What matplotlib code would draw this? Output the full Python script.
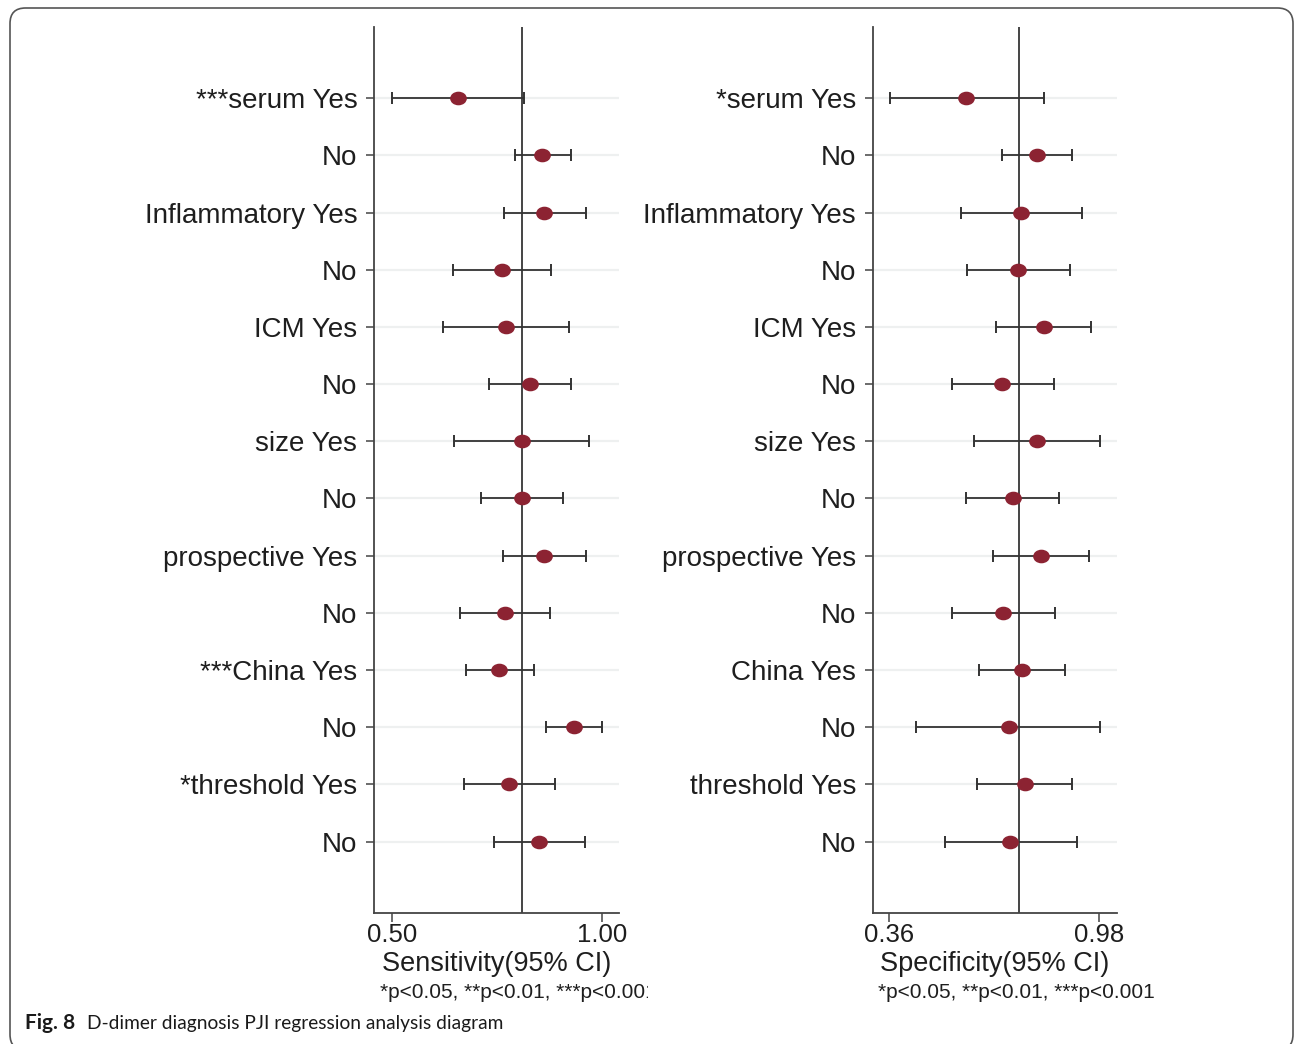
import matplotlib
matplotlib.use('Agg')
import matplotlib.pyplot as plt
import numpy as np
from matplotlib.path import Path
from matplotlib.transforms import Affine2D
from matplotlib.patches import FancyBboxPatch, Rectangle

plt.rcParams['font.family'] = ['Liberation Sans', 'DejaVu Sans']

# subgroup labels, top to bottom
sens_labels = ['***serum Yes', 'No', 'Inflammatory Yes', 'No', 'ICM Yes', 'No',
               'size Yes', 'No', 'prospective Yes', 'No', '***China Yes', 'No',
               '*threshold Yes', 'No']
spec_labels = ['*serum Yes', 'No', 'Inflammatory Yes', 'No', 'ICM Yes', 'No',
               'size Yes', 'No', 'prospective Yes', 'No', 'China Yes', 'No',
               'threshold Yes', 'No']

# sensitivity estimates with 95% CI
sens_est = [0.658, 0.858, 0.862, 0.762, 0.771, 0.828, 0.809, 0.809, 0.861, 0.770, 0.756, 0.934, 0.779, 0.850]
sens_lo = [0.500, 0.793, 0.767, 0.646, 0.621, 0.731, 0.649, 0.712, 0.764, 0.662, 0.676, 0.866, 0.671, 0.742]
sens_hi = [0.815, 0.925, 0.961, 0.879, 0.922, 0.925, 0.969, 0.906, 0.961, 0.877, 0.837, 1.000, 0.888, 0.959]
sens_pooled = 0.809

# specificity estimates with 95% CI
spec_est = [0.587, 0.796, 0.748, 0.739, 0.816, 0.694, 0.796, 0.724, 0.808, 0.697, 0.752, 0.712, 0.760, 0.717]
spec_lo = [0.361, 0.694, 0.572, 0.589, 0.676, 0.544, 0.609, 0.586, 0.667, 0.544, 0.626, 0.440, 0.619, 0.524]
spec_hi = [0.816, 0.899, 0.929, 0.892, 0.956, 0.845, 0.982, 0.862, 0.949, 0.850, 0.878, 0.983, 0.900, 0.913]
spec_pooled = 0.744

W, H = 1295, 1044
fig = plt.figure(figsize=(W / 100, H / 100), dpi=100)

def fx(px):
    return px / W

def fy(py):
    return 1 - py / H

# slightly wide dot marker
dot = Path.unit_circle().transformed(Affine2D().scale(1.25, 1.0))
red = '#8c2332'
dark = '#333333'
ink = '#1e1e1e'


def forest(ax, labels, est, lo, hi, pooled, xlim, ticks):
    est = np.array(est)
    lo = np.array(lo)
    hi = np.array(hi)
    y = np.arange(len(labels))
    ax.errorbar(est, y, xerr=[est - lo, hi - est], fmt='none', ecolor=dark,
                elinewidth=1.3, capsize=4.5, capthick=1.4, zorder=3)
    ax.plot(est, y, linestyle='none', marker=dot, markersize=11,
            color=red, markeredgecolor=red, zorder=4)
    ax.axvline(pooled, color='#444444', lw=1.4, zorder=2)
    ax.set_yticks(y)
    ax.set_yticklabels(labels)
    ax.set_ylim(len(labels) - 1 + 1.245, -1.25)
    ax.set_xlim(*xlim)
    ax.set_xticks(ticks)
    ax.set_xticklabels(['%.2f' % t for t in ticks])
    ax.grid(axis='y', color='#eef0f0', lw=1.6, zorder=0)
    ax.grid(axis='x', visible=False)
    for s in ['top', 'right']:
        ax.spines[s].set_visible(False)
    for s in ['left', 'bottom']:
        ax.spines[s].set_color('#444444')
        ax.spines[s].set_linewidth(1.3)
    ax.tick_params(axis='y', length=6, width=1.1, pad=6, labelsize=20,
                   color='#444444', labelcolor=ink)
    ax.tick_params(axis='x', length=6.5, width=1.1, pad=1, labelsize=18.5,
                   color='#444444', labelcolor=ink)


ax1 = fig.add_axes([fx(374), fy(912.7), fx(619 - 374), (912.7 - 26.7) / H])
forest(ax1, sens_labels, sens_est, sens_lo, sens_hi, sens_pooled,
       (0.458, 1.040), [0.50, 1.00])

ax2 = fig.add_axes([fx(872.7), fy(912.7), fx(1117.3 - 872.7), (912.7 - 26.7) / H])
forest(ax2, spec_labels, spec_est, spec_lo, spec_hi, spec_pooled,
       (0.311, 1.033), [0.36, 0.98])

# axis titles and significance notes
fig.text(fx(496.5), fy(964), 'Sensitivity(95% CI)', ha='center', va='center',
         fontsize=19.5, color=ink)
fig.text(fx(995), fy(964), 'Specificity(95% CI)', ha='center', va='center',
         fontsize=19.5, color=ink)
note1 = fig.text(fx(380), fy(993), '*p<0.05, **p<0.01, ***p<0.001', ha='left',
                 va='center', fontsize=15, color=ink)
note1.set_clip_path(Rectangle((0, 0), fx(648), 1, transform=fig.transFigure))
fig.text(fx(878), fy(993), '*p<0.05, **p<0.01, ***p<0.001', ha='left',
         va='center', fontsize=15, color=ink)

# caption
fig.text(fx(25), fy(1023), 'Fig. 8', ha='left', va='center', fontsize=15,
         fontweight='bold', family=['Lato', 'DejaVu Sans'], color='#1a1a1a')
fig.text(fx(87), fy(1023), 'D-dimer diagnosis PJI regression analysis diagram',
         ha='left', va='center', fontsize=13.8, family=['Lato', 'DejaVu Sans'],
         color='#1a1a1a')

# rounded frame
frame = FancyBboxPatch((fx(10), fy(1050)), fx(1293 - 10), (1050 - 8) / H,
                       boxstyle='round,pad=0,rounding_size=0.012',
                       transform=fig.transFigure, fill=False,
                       edgecolor='#555555', lw=1.2, mutation_aspect=W / H)
fig.patches.append(frame)

fig.savefig('out.png', dpi=100)
